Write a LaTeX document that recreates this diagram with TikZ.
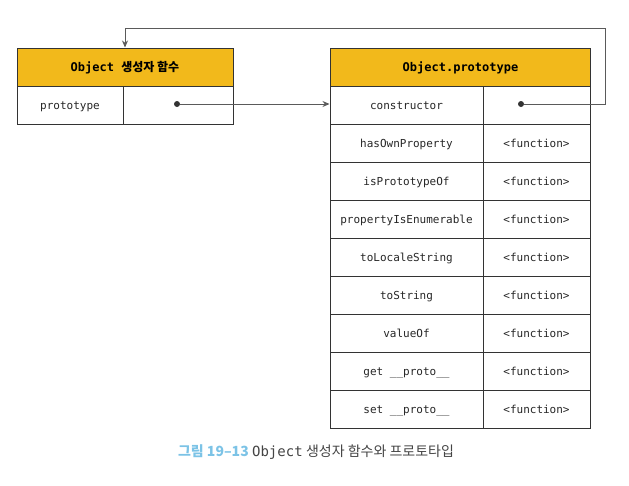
\documentclass[tikz,border=0pt]{standalone}
\usepackage{fontspec}
\setmonofont{DejaVu Sans Mono}
\newfontfamily\kr{Noto Sans CJK KR}
\usetikzlibrary{arrows.meta}
\definecolor{hdr}{HTML}{F2B91B}
\definecolor{ln}{HTML}{333333}
\definecolor{cn}{HTML}{5A5A5A}
\definecolor{capblue}{HTML}{7CC3E6}
\definecolor{capgray}{HTML}{444444}
\tikzset{
  cell/.style={draw=ln, line width=1pt, minimum height=38pt, inner sep=0pt, text height=10pt, text depth=2pt, font=\fontsize{11}{13}\selectfont\ttfamily, text=black!85},
  hcell/.style={cell, fill=hdr, font=\fontsize{12}{14}\selectfont\ttfamily\bfseries, text=black},
  dotn/.style={circle, fill=ln, inner sep=0pt, minimum size=6pt},
  conn/.style={draw=cn, line width=0.9pt},
  tip/.style={-{Stealth[length=7pt,width=6pt]}}
}
\begin{document}
\begin{tikzpicture}[x=1pt,y=-1pt]
\useasboundingbox (0,0) rectangle (629,485);
% left box
\node[hcell, minimum width=216pt] (lhead) at (125,67) {Object {\kr\bfseries 생성자 함수}};
\node[cell, minimum width=106pt] (lp) at (70,105) {prototype};
\node[cell, minimum width=110pt] (lv) at (178,105) {};
\node[dotn] (ldot) at (177,104) {};
% right box
\node[hcell, minimum width=260pt] (rhead) at (460.5,67) {Object.prototype};
\foreach \i/\k/\v in {1/constructor/{},2/hasOwnProperty/{<function>},3/isPrototypeOf/{<function>},4/propertyIsEnumerable/{<function>},5/toLocaleString/{<function>},6/toString/{<function>},7/valueOf/{<function>},8/get \_\_proto\_\_/{<function>},9/set \_\_proto\_\_/{<function>}}{
  \node[cell, minimum width=153pt] (k\i) at (406.5,67+38*\i) {\k};
  \node[cell, minimum width=107pt] (v\i) at (536.5,67+38*\i) {\v};
}
\node[dotn] (rdot) at (521,104) {};
% connectors
\draw[conn, tip] (ldot) -- (k1.west |- ldot);
\coordinate (c1) at (605.5,104);
\coordinate (c2) at (605.5,28);
\coordinate (c3) at (125,28);
\draw[conn, tip] (rdot) -- (c1) -- (c2) -- (c3) -- (lhead.north);
% caption
\node[anchor=center, inner sep=0pt] (cap) at (316,452) {{\kr\bfseries\fontsize{14}{16}\selectfont\color{capblue}그림 19–13} {\fontsize{14}{16}\selectfont\color{capgray}\ttfamily Object} {\kr\fontsize{14}{16}\selectfont\color{capgray}생성자 함수와 프로토타입}};
\end{tikzpicture}
\end{document}
